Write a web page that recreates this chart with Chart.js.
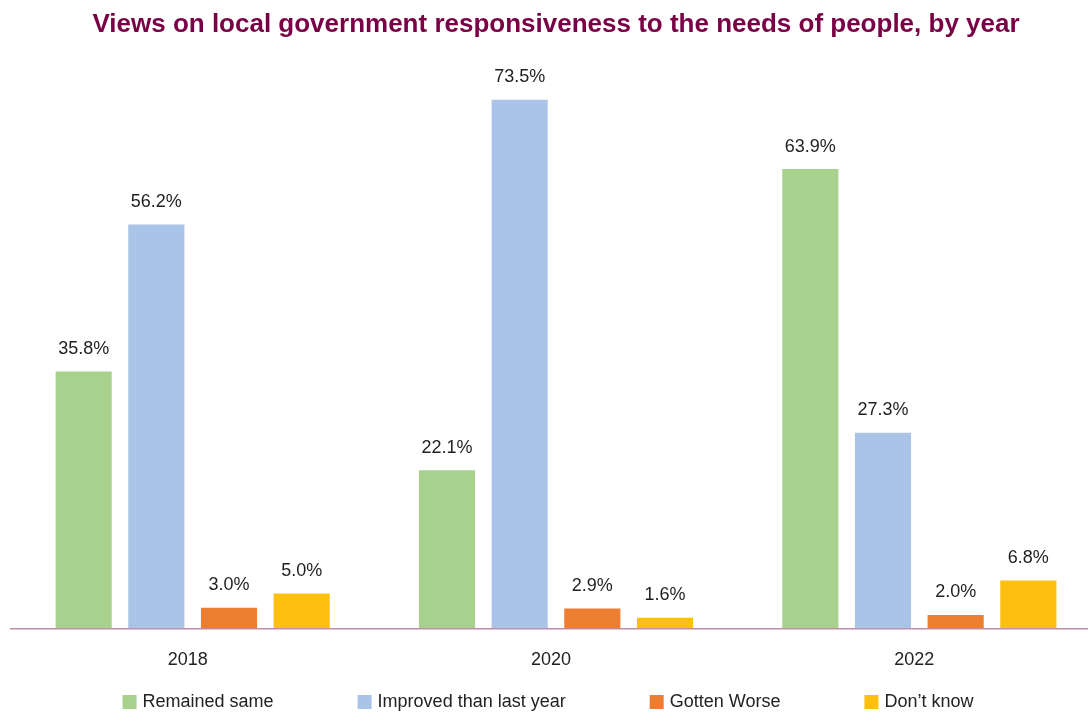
<!DOCTYPE html>
<html>
<head>
<meta charset="utf-8">
<title>Views on local government responsiveness</title>
<script src="https://cdn.jsdelivr.net/npm/chart.js@4/dist/chart.umd.min.js"></script>
<style>
  html, body { margin: 0; padding: 0; background: #ffffff; overflow: hidden; }
  #wrap { width: 1088px; height: 724px; overflow: hidden; }
  canvas { display: block; }
</style>
</head>
<body>
<div id="wrap"><canvas id="chart" width="1101" height="724"></canvas></div>
<script>
// Survey years and the share of answers (%) for each response option
const years = ['2018', '2020', '2022'];
const remainedSame = [35.8, 22.1, 63.9];
const improved = [56.2, 73.5, 27.3];
const gottenWorse = [3.0, 2.9, 2.0];
const dontKnow = [5.0, 1.6, 6.8];

const seriesNames = ['Remained same', 'Improved than last year', 'Gotten Worse', 'Don\u2019t know'];
const seriesColors = ['#A9D18E', '#AAC4E8', '#ED7D31', '#FDC010'];

const labelFont = '"Liberation Sans", Arial, sans-serif';

// Percentage label above every bar
const barValueLabels = {
  id: 'barValueLabels',
  afterDatasetsDraw(chart) {
    const ctx = chart.ctx;
    ctx.save();
    ctx.font = '18px ' + labelFont;
    ctx.fillStyle = '#1f1f1f';
    ctx.textAlign = 'center';
    ctx.textBaseline = 'alphabetic';
    chart.data.datasets.forEach((ds, i) => {
      const meta = chart.getDatasetMeta(i);
      meta.data.forEach((bar, j) => {
        ctx.fillText(ds.data[j].toFixed(1) + '%', bar.x, bar.y - 16.5);
      });
    });
    ctx.restore();
  }
};

// One-row legend under the axis, spaced out evenly
const legendRow = {
  id: 'legendRow',
  afterDraw(chart, args, opts) {
    const ctx = chart.ctx;
    ctx.save();
    ctx.font = '18px ' + labelFont;
    ctx.textBaseline = 'middle';
    ctx.textAlign = 'left';
    const box = 14, boxGap = 6, gap = opts.gap;
    const items = chart.data.datasets.map(ds => ({
      text: ds.label,
      color: ds.backgroundColor,
      w: box + boxGap + ctx.measureText(ds.label).width
    }));
    const total = items.reduce((s, it) => s + it.w, 0) + gap * (items.length - 1);
    let x = opts.centerX - total / 2;
    const y = opts.y;
    items.forEach(it => {
      ctx.fillStyle = it.color;
      ctx.fillRect(x, y - box / 2, box, box);
      ctx.fillStyle = '#222222';
      ctx.fillText(it.text, x + box + boxGap, y);
      x += it.w + gap;
    });
    ctx.restore();
  }
};

const seriesValues = [remainedSame, improved, gottenWorse, dontKnow];

new Chart(document.getElementById('chart'), {
  type: 'bar',
  data: {
    labels: years,
    datasets: seriesValues.map((vals, i) => ({
      label: seriesNames[i],
      data: vals,
      backgroundColor: seriesColors[i],
      borderColor: 'rgba(255,255,255,0.45)',
      borderWidth: 1,
      barPercentage: 0.8,
      categoryPercentage: 0.8
    }))
  },
  options: {
    responsive: false,
    animation: false,
    devicePixelRatio: 1,
    layout: { padding: { left: 11, right: 0, top: 0, bottom: 32 } },
    scales: {
      x: {
        grid: { display: false, drawTicks: false },
        border: { display: true, color: '#BE8CA8', width: 1.5, dash: [2, 1] },
        ticks: {
          color: '#222222',
          font: { family: labelFont, size: 18 },
          padding: 21,
          labelOffset: -5
        }
      },
      y: {
        display: false,
        min: 0,
        max: 80
      }
    },
    plugins: {
      legend: { display: false },
      tooltip: { enabled: false },
      title: {
        display: true,
        text: 'Views on local government responsiveness to the needs of people, by year',
        color: '#7A0045',
        font: { family: labelFont, size: 26, weight: 'bold' },
        padding: { top: 9.5, bottom: 11.3 }
      },
      legendRow: { gap: 84, centerX: 548, y: 702 }
    }
  },
  plugins: [barValueLabels, legendRow]
});
</script>
</body>
</html>
